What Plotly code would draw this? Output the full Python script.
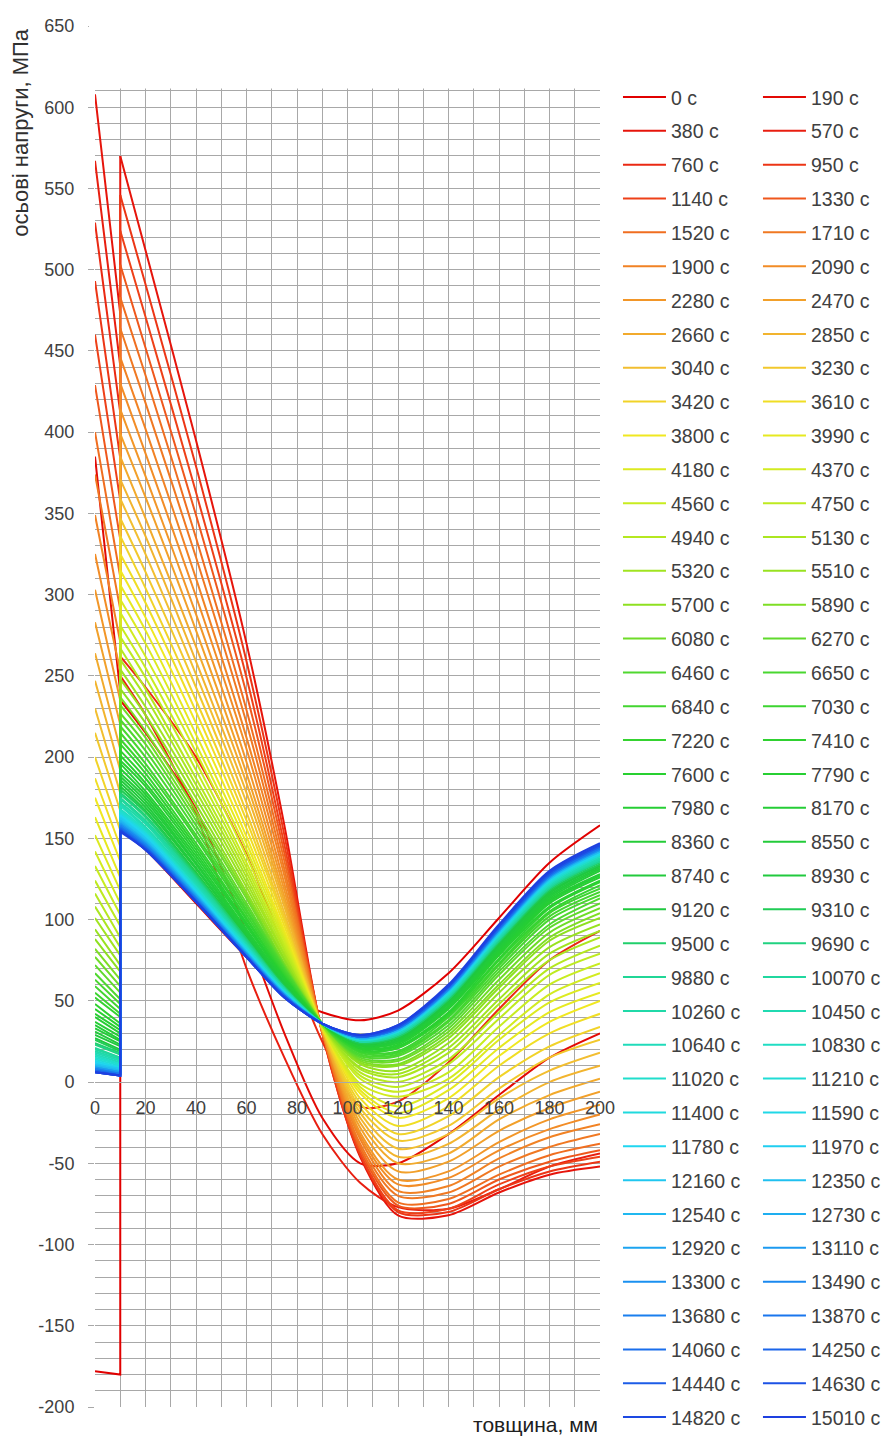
import plotly.graph_objects as go

# ---------------- data ----------------
times = [0, 190, 380, 570, 760, 950, 1140, 1330, 1520, 1710,
         1900, 2090, 2280, 2470, 2660, 2850, 3040, 3230, 3420, 3610,
         3800, 3990, 4180, 4370, 4560, 4750, 4940, 5130, 5320, 5510,
         5700, 5890, 6080, 6270, 6460, 6650, 6840, 7030, 7220, 7410,
         7600, 7790, 7980, 8170, 8360, 8550, 8740, 8930, 9120, 9310,
         9500, 9690, 9880, 10070, 10260, 10450, 10640, 10830, 11020, 11210,
         11400, 11590, 11780, 11970, 12160, 12350, 12540, 12730, 12920, 13110,
         13300, 13490, 13680, 13870, 14060, 14250, 14440, 14630, 14820, 15010]

y_tick_vals = [-200, -150, -100, -50, 0, 50, 100, 150, 200, 250, 300,
               350, 400, 450, 500, 550, 600, 650]
y_tick_text = ["-200", "-150", "-100", "-50", "0", "50", "100", "150", "200",
               "250", "300", "350", "400", "450", "500", "550", "600", "650"]

# cladding (0..10 mm)
x_clad = [0, 10]
clad_at_0 = [-178, 385, 608, 567, 529, 493, 460, 429, 400, 374,
             349, 325, 303, 283, 264, 247, 230, 215, 200, 187,
             175, 163, 152, 142, 133, 124, 116, 108, 101, 94,
             88, 82, 77, 72, 67, 63, 59, 55, 52, 48,
             45, 42, 40, 37, 35, 33, 31, 29, 27, 26,
             24, 23, 21, 20, 19, 18, 17, 16, 15, 14,
             13, 13, 12, 11, 11, 10, 10, 9, 9, 9,
             8, 8, 8, 7, 7, 7, 6, 6, 6, 6]
clad_at_10 = [-180, 240, 473, 441, 412, 384, 358, 334, 311, 291,
              271, 253, 235, 220, 205, 192, 178, 167, 155, 145,
              136, 126, 118, 110, 103, 96, 89, 83, 78, 72,
              68, 63, 59, 55, 51, 48, 45, 42, 40, 36,
              34, 32, 30, 28, 26, 25, 23, 22, 20, 19,
              18, 17, 15, 15, 14, 13, 12, 11, 11, 10,
              9, 9, 8, 8, 8, 7, 7, 6, 6, 6,
              5, 5, 5, 5, 4, 4, 4, 4, 4, 4]

# base metal (10..200 mm)
x_base = [10, 20, 40, 60, 75, 90, 105, 120, 140, 160, 180, 200]
base_at_10 = [155, 235, 570, 250, 262, 546, 524, 503, 483, 464,
              446, 430, 414, 399, 385, 371, 359, 347, 336, 325,
              315, 306, 297, 289, 281, 274, 267, 260, 254, 248,
              242, 237, 232, 227, 223, 219, 215, 211, 208, 204,
              201, 198, 196, 193, 190, 188, 186, 184, 182, 180,
              178, 177, 175, 174, 172, 171, 170, 168, 167, 166,
              165, 164, 164, 163, 162, 161, 161, 160, 159, 159,
              158, 158, 157, 157, 156, 156, 155, 155, 155, 154]
base_at_20 = [143, 215, 512, 226, 243, 491, 471, 452, 435, 418,
              402, 387, 373, 360, 347, 336, 325, 314, 304, 295,
              286, 278, 270, 262, 255, 249, 242, 237, 231, 226,
              221, 216, 212, 208, 204, 200, 196, 193, 190, 187,
              184, 182, 179, 177, 175, 173, 171, 169, 167, 166,
              164, 163, 161, 160, 159, 157, 156, 155, 154, 153,
              153, 152, 151, 150, 150, 149, 148, 148, 147, 147,
              146, 146, 145, 145, 144, 144, 144, 143, 143, 143]
base_at_40 = [110, 168, 395, 165, 200, 379, 363, 349, 335, 323,
              310, 299, 288, 278, 268, 259, 251, 243, 235, 228,
              221, 214, 208, 203, 197, 192, 187, 183, 179, 175,
              171, 167, 164, 161, 158, 155, 152, 150, 147, 145,
              143, 141, 139, 137, 135, 134, 132, 131, 129, 128,
              127, 126, 125, 124, 123, 122, 121, 120, 120, 119,
              118, 118, 117, 116, 116, 115, 115, 115, 114, 114,
              113, 113, 113, 112, 112, 112, 111, 111, 111, 111]
base_at_60 = [77, 92, 270, 70, 140, 259, 249, 239, 229, 221,
              212, 205, 197, 190, 184, 178, 172, 166, 161, 156,
              151, 147, 143, 139, 135, 132, 129, 126, 123, 120,
              117, 115, 113, 110, 108, 106, 105, 103, 101, 100,
              98, 97, 96, 94, 93, 92, 91, 90, 89, 88,
              88, 87, 86, 85, 85, 84, 84, 83, 83, 82,
              82, 81, 81, 80, 80, 80, 79, 79, 79, 79,
              78, 78, 78, 78, 77, 77, 77, 77, 77, 77]
base_at_75 = [55, 30, 158, 15, 82, 152, 146, 141, 136, 131,
              127, 122, 118, 114, 111, 108, 104, 101, 99, 96,
              93, 91, 89, 87, 85, 83, 81, 79, 78, 76,
              75, 73, 72, 71, 70, 69, 68, 67, 66, 65,
              64, 64, 63, 62, 62, 61, 60, 60, 59, 59,
              58, 58, 58, 57, 57, 57, 56, 56, 56, 55,
              55, 55, 55, 55, 54, 54, 54, 54, 54, 53,
              53, 53, 53, 53, 53, 53, 52, 52, 52, 52]
base_at_90 = [43, -22, 30, -32, 25, 30, 31, 31, 31, 31,
              31, 32, 32, 32, 32, 33, 33, 33, 33, 34,
              34, 34, 34, 34, 35, 35, 35, 35, 35, 35,
              35, 36, 36, 36, 36, 36, 36, 36, 36, 36,
              36, 36, 36, 36, 36, 36, 36, 36, 36, 36,
              36, 36, 36, 36, 36, 36, 36, 36, 36, 36,
              36, 36, 36, 36, 36, 36, 36, 36, 36, 36,
              36, 36, 36, 36, 36, 36, 36, 36, 36, 36]
base_at_105 = [38, -50, -46, -62, -15, -45, -44, -42, -40, -38,
               -35, -33, -31, -28, -25, -22, -19, -16, -13, -10,
               -7, -5, -3, -1, 2, 4, 6, 8, 9, 11,
               12, 13, 14, 15, 16, 17, 18, 19, 19, 20,
               21, 21, 22, 22, 23, 23, 23, 24, 24, 24,
               25, 25, 25, 25, 25, 26, 26, 26, 26, 26,
               27, 27, 27, 27, 27, 27, 27, 27, 28, 28,
               28, 28, 28, 28, 28, 28, 28, 29, 29, 29]
base_at_120 = [44, -50, -82, -77, -12, -80, -79, -76, -74, -70,
               -67, -63, -60, -55, -50, -46, -41, -36, -32, -27,
               -22, -19, -15, -9, -6, -3, 0, 3, 5, 7,
               10, 11, 13, 14, 16, 17, 18, 19, 21, 21,
               22, 23, 24, 25, 25, 26, 26, 27, 27, 28,
               28, 29, 29, 29, 30, 30, 30, 31, 31, 31,
               31, 32, 32, 32, 32, 32, 32, 33, 33, 33,
               33, 33, 33, 33, 34, 34, 34, 34, 35, 35]
base_at_140 = [67, -32, -82, -78, 12, -80, -78, -75, -72, -68,
               -64, -59, -55, -49, -44, -38, -32, -27, -21, -15,
               -10, -5, -1, 2, 6, 11, 14, 18, 21, 24,
               27, 29, 31, 33, 35, 37, 38, 40, 41, 42,
               43, 45, 46, 46, 47, 48, 49, 49, 50, 51,
               51, 52, 52, 53, 53, 53, 54, 54, 55, 55,
               55, 56, 56, 56, 56, 57, 57, 57, 57, 57,
               57, 58, 58, 58, 58, 59, 59, 59, 59, 60]
base_at_160 = [101, -8, -68, -66, 45, -66, -63, -60, -57, -52,
               -47, -42, -37, -30, -23, -17, -10, -4, 3, 10,
               16, 21, 26, 29, 34, 39, 43, 48, 51, 55,
               58, 60, 63, 66, 68, 70, 72, 73, 75, 76,
               78, 79, 80, 81, 82, 83, 84, 85, 85, 86,
               87, 87, 88, 88, 89, 89, 90, 90, 91, 91,
               91, 92, 92, 92, 93, 93, 93, 93, 94, 94,
               94, 94, 94, 95, 95, 95, 96, 96, 96, 97]
base_at_180 = [135, 15, -57, -52, 75, -55, -52, -49, -45, -40,
               -34, -29, -23, -16, -8, 0, 7, 15, 22, 30,
               37, 43, 49, 54, 60, 66, 70, 75, 79, 83,
               87, 89, 92, 95, 97, 100, 102, 104, 105, 107,
               108, 110, 111, 112, 113, 114, 115, 116, 117, 118,
               119, 119, 120, 120, 121, 121, 122, 122, 123, 123,
               124, 124, 125, 125, 125, 125, 126, 126, 126, 126,
               127, 127, 127, 127, 128, 128, 128, 129, 129, 130]
base_at_200 = [158, 30, -52, -44, 93, -49, -46, -42, -38, -32,
               -26, -20, -14, -6, 2, 10, 18, 26, 34, 42,
               50, 55, 61, 67, 73, 79, 84, 89, 93, 97,
               101, 104, 107, 110, 113, 115, 117, 119, 121, 123,
               124, 126, 127, 128, 130, 131, 132, 133, 133, 134,
               135, 136, 136, 137, 137, 138, 139, 139, 140, 140,
               140, 141, 141, 142, 142, 142, 142, 143, 143, 143,
               143, 144, 144, 144, 145, 145, 145, 146, 146, 147]

base_columns = [base_at_10, base_at_20, base_at_40, base_at_60, base_at_75,
                base_at_90, base_at_105, base_at_120, base_at_140,
                base_at_160, base_at_180, base_at_200]

# ---------------- styles ----------------
anchor_idx = [0, 3, 6, 8, 12, 16, 20, 24, 30, 34, 40, 48, 52, 58, 62, 66, 70, 74, 79]
anchor_rgb = [(225, 0, 0), (232, 30, 16), (238, 64, 24), (240, 110, 32),
              (242, 150, 40), (242, 190, 48), (240, 232, 32), (200, 236, 32),
              (142, 224, 32), (80, 216, 48), (40, 208, 48), (32, 200, 64),
              (32, 214, 150), (32, 222, 204), (32, 214, 240), (32, 184, 240),
              (26, 144, 240), (26, 110, 236), (30, 64, 224)]


def series_color(i):
    for k in range(len(anchor_idx) - 1):
        a, b = anchor_idx[k], anchor_idx[k + 1]
        if a <= i <= b:
            f = (i - a) / (b - a)
            c = [round(anchor_rgb[k][j] + f * (anchor_rgb[k + 1][j] - anchor_rgb[k][j])) for j in range(3)]
            return "rgb(%d,%d,%d)" % tuple(c)
    return "rgb(%d,%d,%d)" % anchor_rgb[-1]


FONT = "Liberation Sans, Arial, sans-serif"
TXT = "#404040"
GRID = "#a8a8a8"

fig = go.Figure()
for i, t in enumerate(times):
    col = series_color(i)
    leg = "legend" if i % 2 == 0 else "legend2"
    grp = "g%d" % i
    base_y = [c[i] for c in base_columns]
    fig.add_trace(go.Scatter(
        x=[x_clad[0], x_clad[1], x_base[0]],
        y=[clad_at_0[i], clad_at_10[i], base_y[0]],
        mode="lines", line=dict(color=col, width=2),
        name="%d с" % t, legend=leg, legendgroup=grp, hoverinfo="skip"))
    fig.add_trace(go.Scatter(
        x=x_base, y=base_y, mode="lines",
        line=dict(color=col, width=2, shape="spline", smoothing=0.8),
        name="%d с" % t, legend=leg, legendgroup=grp, showlegend=False,
        hoverinfo="skip"))

# white band above the top gridline (grid stops at 610)
fig.add_shape(type="rect", xref="paper", yref="y", x0=-0.012, x1=1.01, y0=611.5, y1=660,
              fillcolor="white", line=dict(width=0), layer="above")

legend_common = dict(
    xanchor="left", yanchor="top",
    font=dict(family=FONT, size=19.5, color=TXT),
    bgcolor="rgba(0,0,0,0)", borderwidth=0,
    tracegroupgap=5.5, itemwidth=43, orientation="v", maxheight=1420)

y_zero_pos = 200 / 850.0

fig.update_layout(
    width=895, height=1437,
    margin=dict(l=95, r=295, t=26, b=30, autoexpand=False),
    paper_bgcolor="white", plot_bgcolor="white",
    font=dict(family=FONT, color=TXT),
    showlegend=True,
    legend=dict(x=1.0356, y=0.9625, **legend_common),
    legend2=dict(x=1.3128, y=0.9625, **legend_common),
    xaxis=dict(
        range=[0, 200], dtick=20, tick0=0,
        showgrid=True, gridcolor=GRID, gridwidth=1,
        minor=dict(dtick=10, showgrid=True, gridcolor=GRID, gridwidth=1),
        zeroline=False, showline=True, linecolor=GRID, linewidth=1,
        anchor="free", position=y_zero_pos,
        ticks="outside", ticklen=9, tickcolor="rgba(0,0,0,0)",
        tickfont=dict(family=FONT, size=18, color=TXT),
        fixedrange=True),
    yaxis=dict(
        range=[-200, 650], tickmode="array",
        tickvals=y_tick_vals, ticktext=y_tick_text,
        showgrid=True, gridcolor=GRID, gridwidth=1,
        minor=dict(dtick=10, tick0=0, showgrid=True, gridcolor=GRID, gridwidth=1),
        zeroline=False, showline=False,
        ticks="outside", ticklen=6, tickcolor=GRID,
        ticklabelstandoff=10,
        tickfont=dict(family=FONT, size=18, color=TXT),
        fixedrange=True),
    annotations=[
        dict(text="осьові напруги, МПа", xref="paper", yref="paper",
             x=-0.148, y=1.0, xanchor="center", yanchor="top", textangle=-90,
             showarrow=False, font=dict(family=FONT, size=22, color="#303030")),
        dict(text="товщина, мм", xref="paper", yref="paper",
             x=1.0, y=-0.0125, xanchor="right", yanchor="middle",
             showarrow=False, font=dict(family=FONT, size=21, color="#202020")),
    ],
)

fig.write_html("out.html")
